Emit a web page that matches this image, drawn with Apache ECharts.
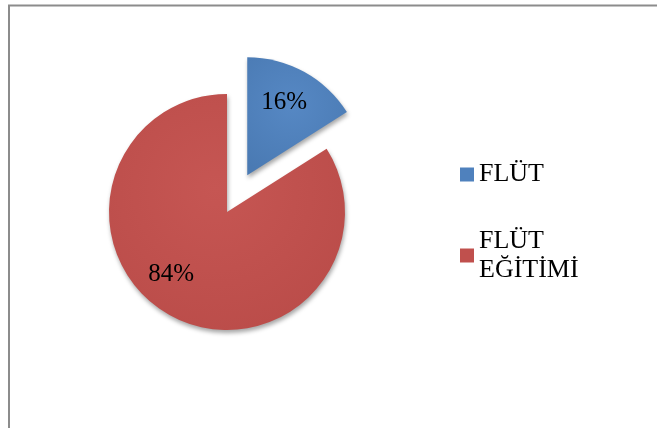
<!DOCTYPE html>
<html>
<head>
<meta charset="utf-8">
<script src="https://cdn.jsdelivr.net/npm/echarts@6/dist/echarts.min.js"></script>
<style>
html,body{margin:0;padding:0;background:#fff;}
#chart{width:657px;height:428px;}
</style>
</head>
<body>
<div id="chart"></div>
<script>
var categories = ['FLÜT', 'FLÜT\nEĞİTİMİ'];
var values = [16, 84];
var colors = ['#4F81BD', '#C0504D'];
var labelShift = [[7, -18], [-26, 8]];
var serif = '"Liberation Serif", "Times New Roman", Times, serif';

var chart = echarts.init(document.getElementById('chart'), null, {renderer: 'canvas'});

var data = categories.map(function (c, i) {
  return {
    name: c,
    value: values[i],
    selected: i === 0,
    itemStyle: {
      color: {
        type: 'radial', x: 0.45, y: 0.4, r: 0.75,
        colorStops: [
          {offset: 0, color: i === 0 ? '#5688c4' : '#c65653'},
          {offset: 1, color: i === 0 ? '#4a7ab3' : '#b94b48'}
        ]
      }
    }
  };
});

var option = {
  backgroundColor: '#ffffff',
  animation: false,
  color: colors,
  graphic: [{
    type: 'rect',
    shape: {x: 9, y: 5.5, width: 720, height: 500},
    style: {fill: 'none', stroke: '#8c8c8c', lineWidth: 2},
    silent: true
  }],
  legend: {
    orient: 'vertical',
    left: 455,
    top: 155,
    itemWidth: 14,
    itemHeight: 14,
    itemGap: 23,
    icon: 'rect',
    data: categories.map(function (c, i) {
      return {
        name: c,
        itemStyle: {color: colors[i]},
        textStyle: {padding: i === 1 ? [29, 0, 0, 0] : 0}
      };
    }),
    textStyle: {
      fontFamily: serif,
      fontSize: 26,
      lineHeight: 29,
      color: '#000'
    },
    selectedMode: false
  },
  series: [{
    type: 'pie',
    center: [227, 212],
    radius: 118,
    startAngle: 90,
    clockwise: true,
    selectedMode: 'single',
    selectedOffset: 42,
    avoidLabelOverlap: false,
    silent: true,
    label: {
      show: true,
      position: 'inside',
      formatter: '{d}%',
      fontFamily: serif,
      fontSize: 25,
      color: '#000'
    },
    labelLine: {show: false},
    labelLayout: function (p) {
      return {dx: labelShift[p.dataIndex][0], dy: labelShift[p.dataIndex][1]};
    },
    itemStyle: {
      borderWidth: 0,
      shadowBlur: 4,
      shadowOffsetX: 1,
      shadowOffsetY: 3,
      shadowColor: 'rgba(0,0,0,0.35)'
    },
    emphasis: {disabled: true},
    data: data
  }]
};
chart.setOption(option);
</script>
</body>
</html>
